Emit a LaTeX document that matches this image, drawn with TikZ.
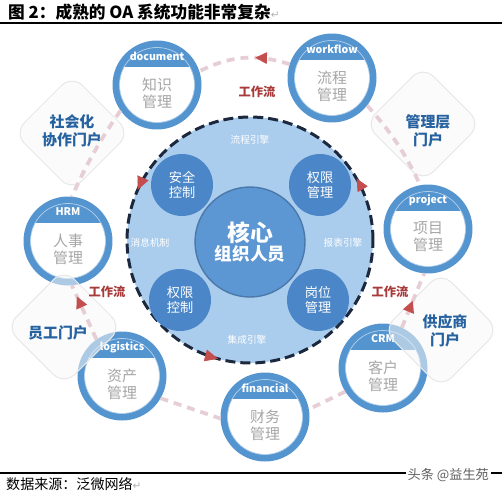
\documentclass[tikz,border=0pt]{standalone}
\usepackage{fontspec}
\setmainfont{Noto Sans CJK SC}
\newfontfamily\symfont{DejaVu Sans}
\usetikzlibrary{arrows.meta,decorations.markings}

\definecolor{modblue}{RGB}{84,149,208}
\definecolor{hubblue}{RGB}{170,204,237}
\definecolor{coreblue}{RGB}{92,151,212}
\definecolor{innerblue}{RGB}{74,134,200}
\definecolor{ringdark}{RGB}{27,40,62}
\definecolor{flowpink}{RGB}{230,206,212}
\definecolor{arrowred}{RGB}{196,78,78}
\definecolor{labelred}{RGB}{168,58,58}
\definecolor{portaltext}{RGB}{38,98,160}

\begin{document}
\begin{tikzpicture}[x=0.02cm,y=0.02cm,
    hub/.style={circle,fill=hubblue,draw=ringdark,line width=1.7pt,dash pattern=on 0.2cm off 0.1cm,minimum size=4.92cm,inner sep=0pt},
    core/.style={circle,fill=coreblue,draw=coreblue!80!black,line width=0.8pt,minimum size=2.2cm,align=center,text=white,inner sep=0pt},
    inner/.style={circle,fill=innerblue,minimum size=1.24cm,align=center,text=white,font=\fontsize{7.5}{9}\selectfont,inner sep=0pt},
    engine/.style={text=white,font=\fontsize{5.5}{6}\selectfont},
    module/.style={circle,draw=modblue,fill=white,line width=0.14cm,minimum size=1.64cm,inner sep=0pt},
    headtext/.style={text=white,font=\fontsize{6}{7}\selectfont\bfseries},
    bodytext/.style={text=gray!70,align=center,font=\fontsize{8.5}{9.5}\selectfont},
    portal/.style={fill=white!94!gray,fill opacity=0.55,draw=gray!18,line width=0.6pt,rounded corners=0.3cm},
    portaltext/.style={text=portaltext,align=center,font=\fontsize{8.5}{10}\selectfont\bfseries},
    flow/.style={draw=flowpink,line width=0.075cm,dash pattern=on 0.16cm off 0.12cm},
    flowtext/.style={text=labelred,font=\fontsize{7}{8}\selectfont\bfseries},
    tipat/.style={postaction={decorate},decoration={markings,
      mark=at position #1 with {\arrow[arrowred]{Triangle[length=0.24cm,width=0.22cm]}}}}]
  \useasboundingbox (0,0) rectangle (502,494);

  % title and rules
  \node[anchor=west,font=\fontsize{9.5}{11}\selectfont\bfseries] (title) at (2,482)
    {图 2：成熟的 OA 系统功能非常复杂{\symfont\mdseries\color{gray!60}\fontsize{6}{7}\selectfont ↵}};
  \draw[line width=0.8pt] (0,471) -- (502,471);
  \draw[line width=0.8pt] (0,21) -- (502,21);
  \node[anchor=west,font=\fontsize{8}{9}\selectfont] (source) at (0,10)
    {数据来源：泛微网络{\symfont\color{gray!60}\fontsize{6}{7}\selectfont ↵}};
  \node[anchor=east,text=gray!75!black,fill=white,inner sep=1pt,font=\fontsize{7.5}{8}\selectfont] (mark) at (491,19) {头条 @益生苑};

  % centre
  \node[hub] (hub) at (250,254) {};
  \path[tipat=0.083,postaction={decorate,decoration={markings,
      mark=at position 0.433 with {\arrow[arrowred]{Triangle[length=0.26cm,width=0.24cm]}},
      mark=at position 0.708 with {\arrow[arrowred]{Triangle[length=0.26cm,width=0.24cm]}}}}]
    (hub.center) ++(123,0) arc[start angle=0,end angle=360,radius=123];
  \node[core] (core) at (250,252)
    {{\fontsize{13}{15}\selectfont\bfseries 核心}\\[-1pt]{\fontsize{10}{12}\selectfont\bfseries 组织人员}};
  \foreach \n/\x/\y/\a/\b in {safe/182/309/安全/控制, rightm/320/309/权限/管理,
                              rightc/180/194/权限/控制, post/318/194/岗位/管理}
    \node[inner] (\n) at (\x,\y) {\a\\\b};
  \node[engine] (eflow) at (250,354) {流程引擎};
  \node[engine] (ereport) at (343,251) {报表引擎};
  \node[engine] (eint) at (247,154) {集成引擎};
  \node[engine] (emsg) at (150,251) {消息机制};

  % modules
  \foreach \n/\x/\y/\a/\b in {document/157/409/知识/管理, workflow/332/416/流程/管理,
                              project/428/265/项目/管理, CRM/383/126/客户/管理,
                              financial/265/77/财务/管理, logistics/122/118/资产/管理,
                              HRM/68/253/人事/管理} {
    \node[module] (\n) at (\x,\y) {};
    \begin{scope}
      \clip (\x,\y) circle (37.5);
      \fill[modblue] (\x-45,\y+18) rectangle (\x+45,\y+45);
    \end{scope}
    \draw[modblue!45!white,line width=0.4pt] (\x,\y) circle (37.5);
    \node[headtext] at (\x,\y+29) {\n};
    \node[bodytext] at (\x,\y-8) {\a\\\b};
  }

  % portals
  \foreach \x/\y in {72/361, 423/370, 64/167, 441/164}
    \draw[portal] (\x-58,\y) -- (\x,\y+58) -- (\x+58,\y) -- (\x,\y-58) -- cycle;
  \node[portaltext] (social) at (72,363) {社会化\\协作门户};
  \node[portaltext] (manager) at (428,363) {管理层\\门户};
  \node[portaltext] (staff) at (58,161) {员工门户};
  \node[portaltext] (supplier) at (445,163) {供应商\\门户};

  % work flows
  \draw[flow,tipat=0.38] (workflow.162) to[bend right=22] (document.18);
  \draw[flow] (document.215) to[bend right=5] (HRM.85);
  \draw[flow] (workflow.-38) to[bend left=8] (project.100);
  \draw[flow,tipat=0.5] (CRM.65) to (project.-95);
  \draw[flow] (CRM.212) to (financial.10);
  \draw[flow] (logistics.-30) to (financial.182);
  \draw[flow,tipat=0.8] (logistics.125) to (HRM.-85);
  \node[flowtext] (wtop) at (257,402) {工作流};
  \node[flowtext] (wright) at (390,202) {工作流};
  \node[flowtext] (wleft) at (107,202) {工作流};
\end{tikzpicture}
\end{document}
